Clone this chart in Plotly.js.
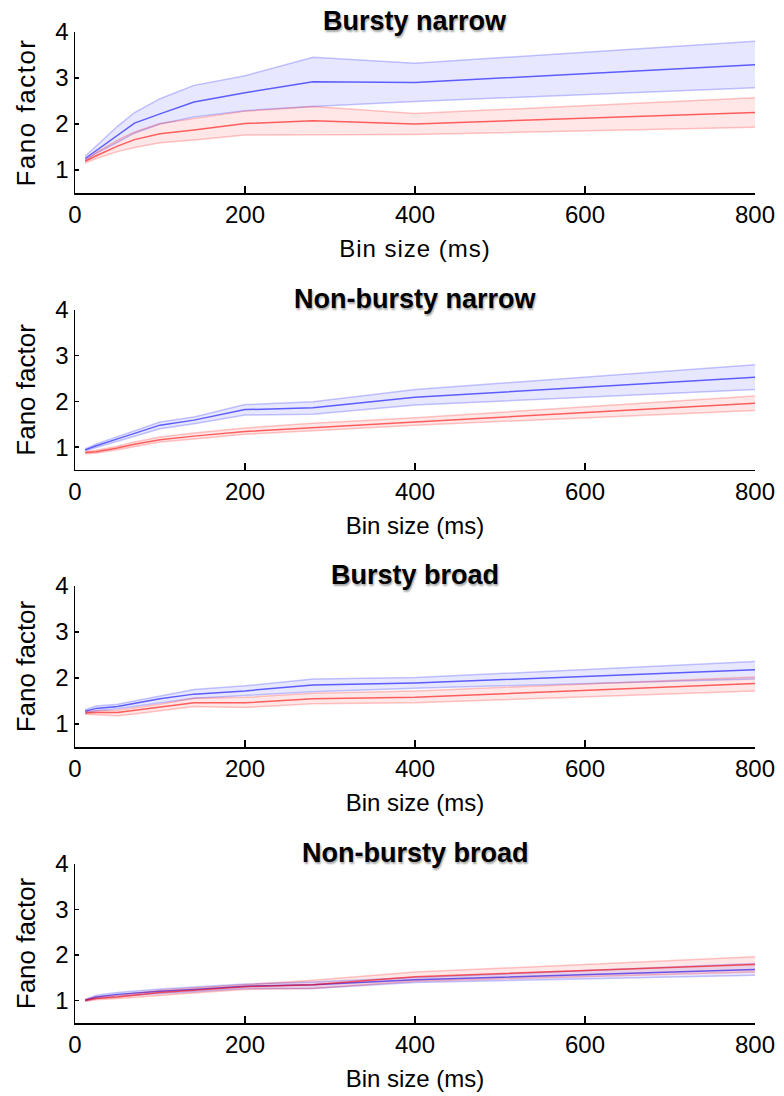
<!DOCTYPE html>
<html>
<head>
<meta charset="utf-8">
<script src="https://cdn.plot.ly/plotly-3.0.1.min.js"></script>
<style>
  html, body { margin: 0; padding: 0; background: #fff; }
  #fig { width: 784px; height: 1096px; }
  /* slightly looser tracking for axis titles */
  #fig .xtitle { letter-spacing: 1px; }
  #fig .ytitle { letter-spacing: 1.5px; }
</style>
</head>
<body>
<div id="fig"></div>
<script>
// Bin sizes (ms) at which the Fano factor was computed
const binSize = [12, 25, 50, 70, 100, 140, 200, 280, 400, 800];

const panelTitles = ["Bursty narrow", "Non-bursty narrow", "Bursty broad", "Non-bursty broad"];
const xTicks = [0, 200, 400, 600, 800];
const yTicks = [1, 2, 3, 4];

// Bursty narrow
const bnBlueMean = [1.25, 1.42, 1.75, 2.02, 2.22, 2.48, 2.68, 2.92, 2.90, 3.29];
const bnBlueHi   = [1.30, 1.52, 1.95, 2.25, 2.55, 2.84, 3.05, 3.45, 3.32, 3.80];
const bnBlueLo   = [1.21, 1.36, 1.60, 1.80, 2.00, 2.15, 2.29, 2.38, 2.49, 2.79];
const bnRedMean  = [1.19, 1.31, 1.52, 1.66, 1.79, 1.87, 2.01, 2.07, 2.00, 2.25];
const bnRedHi    = [1.22, 1.38, 1.65, 1.83, 2.01, 2.12, 2.28, 2.38, 2.23, 2.57];
const bnRedLo    = [1.15, 1.25, 1.40, 1.49, 1.59, 1.65, 1.76, 1.77, 1.77, 1.93];

// Non-bursty narrow
const nnBlueMean = [0.94, 1.03, 1.18, 1.30, 1.48, 1.59, 1.82, 1.86, 2.09, 2.53];
const nnBlueHi   = [0.96, 1.07, 1.23, 1.36, 1.55, 1.66, 1.93, 1.99, 2.26, 2.80];
const nnBlueLo   = [0.92, 0.99, 1.12, 1.24, 1.40, 1.51, 1.70, 1.72, 1.92, 2.26];
const nnRedMean  = [0.88, 0.90, 0.98, 1.06, 1.16, 1.24, 1.34, 1.43, 1.55, 1.96];
const nnRedHi    = [0.90, 0.93, 1.02, 1.11, 1.22, 1.31, 1.42, 1.52, 1.64, 2.12];
const nnRedLo    = [0.85, 0.87, 0.94, 1.01, 1.11, 1.18, 1.28, 1.36, 1.48, 1.80];

// Bursty broad
const bbBlueMean = [1.28, 1.34, 1.38, 1.45, 1.55, 1.65, 1.72, 1.85, 1.89, 2.18];
const bbBlueHi   = [1.31, 1.39, 1.43, 1.50, 1.62, 1.75, 1.83, 1.98, 2.01, 2.36];
const bbBlueLo   = [1.24, 1.29, 1.33, 1.38, 1.47, 1.56, 1.62, 1.70, 1.78, 1.98];
const bbRedMean  = [1.24, 1.25, 1.25, 1.30, 1.36, 1.46, 1.46, 1.55, 1.58, 1.88];
const bbRedHi    = [1.27, 1.29, 1.30, 1.35, 1.43, 1.56, 1.58, 1.67, 1.72, 2.02];
const bbRedLo    = [1.21, 1.20, 1.18, 1.22, 1.29, 1.38, 1.36, 1.44, 1.46, 1.72];

// Non-bursty broad
const nbBlueMean = [1.00, 1.07, 1.13, 1.16, 1.20, 1.24, 1.31, 1.34, 1.45, 1.68];
const nbBlueHi   = [1.02, 1.11, 1.17, 1.20, 1.25, 1.29, 1.36, 1.40, 1.50, 1.81];
const nbBlueLo   = [0.98, 1.04, 1.09, 1.12, 1.15, 1.19, 1.26, 1.26, 1.39, 1.55];
const nbRedMean  = [1.00, 1.04, 1.07, 1.11, 1.17, 1.22, 1.30, 1.34, 1.52, 1.79];
const nbRedHi    = [1.02, 1.07, 1.11, 1.16, 1.22, 1.27, 1.35, 1.44, 1.62, 1.96];
const nbRedLo    = [0.98, 1.01, 1.04, 1.07, 1.10, 1.16, 1.24, 1.26, 1.42, 1.62];

const panels = [
  { blue: [bnBlueLo, bnBlueMean, bnBlueHi], red: [bnRedLo, bnRedMean, bnRedHi] },
  { blue: [nnBlueLo, nnBlueMean, nnBlueHi], red: [nnRedLo, nnRedMean, nnRedHi] },
  { blue: [bbBlueLo, bbBlueMean, bbBlueHi], red: [bbRedLo, bbRedMean, bbRedHi] },
  { blue: [nbBlueLo, nbBlueMean, nbBlueHi], red: [nbRedLo, nbRedMean, nbRedHi] }
];

const palette = {
  blue: { line: "rgba(0,0,255,0.6)", edge: "rgba(0,0,255,0.22)", fill: "rgba(0,0,255,0.095)" },
  red:  { line: "rgba(255,0,0,0.6)", edge: "rgba(255,0,0,0.22)", fill: "rgba(255,0,0,0.095)" }
};

// Vertical extent of each subplot (paper fraction), top to bottom
const domains = [
  [0.8239, 0.9708],
  [0.5712, 0.7172],
  [0.3184, 0.4653],
  [0.0666, 0.2117]
];

const FONT = "Liberation Sans, Arial, Helvetica, sans-serif";
const traces = [];
const layout = {
  width: 784, height: 1096,
  margin: { l: 75, r: 29, t: 0, b: 0 },
  paper_bgcolor: "#fff", plot_bgcolor: "#fff",
  showlegend: false,
  font: { family: FONT, size: 24, color: "#000" },
  annotations: []
};

panels.forEach((p, i) => {
  const n = i + 1;
  const xa = n === 1 ? "x" : "x" + n;
  const ya = n === 1 ? "y" : "y" + n;

  ["blue", "red"].forEach(key => {
    const [lo, mean, hi] = p[key];
    const c = palette[key];
    traces.push({ x: binSize, y: lo, xaxis: xa, yaxis: ya, mode: "lines",
      line: { color: c.edge, width: 1.5 }, hoverinfo: "skip" });
    traces.push({ x: binSize, y: hi, xaxis: xa, yaxis: ya, mode: "lines",
      fill: "tonexty", fillcolor: c.fill,
      line: { color: c.edge, width: 1.5 }, hoverinfo: "skip" });
    traces.push({ x: binSize, y: mean, xaxis: xa, yaxis: ya, mode: "lines",
      line: { color: c.line, width: 1.5 }, name: key });
  });

  layout["xaxis" + (n === 1 ? "" : n)] = {
    anchor: ya, domain: [0, 1], range: [0, 800],
    tickvals: xTicks, ticks: "inside", ticklen: 7, tickwidth: 1.5, tickcolor: "#000",
    showline: true, linecolor: "#000", linewidth: 1.5, mirror: false,
    showgrid: false, zeroline: false, automargin: false,
    tickfont: { family: FONT, size: 24 },
    title: { text: "Bin size (ms)", font: { family: FONT, size: 24 }, standoff: 13 }
  };
  layout["yaxis" + (n === 1 ? "" : n)] = {
    anchor: xa, domain: domains[i], range: [0.5, 4],
    tickvals: yTicks, ticks: "inside", ticklen: 4, tickwidth: 1.5, tickcolor: "#000",
    showline: true, linecolor: "#000", linewidth: 1.5, mirror: false,
    showgrid: false, zeroline: false, automargin: false,
    tickfont: { family: FONT, size: 24 },
    title: { text: "Fano factor", font: { family: FONT, size: 26 }, standoff: 12 }
  };

  layout.annotations.push({
    text: "<b>" + panelTitles[i] + "</b>",
    xref: "paper", yref: "paper", x: 0.5, y: domains[i][1],
    xanchor: "center", yanchor: "bottom", yshift: -6, showarrow: false,
    font: { family: FONT, size: 27, color: "#000", shadow: "1px 2px 2px rgba(0,0,0,0.35)" }
  });
});

Plotly.newPlot("fig", traces, layout, { displayModeBar: false, staticPlot: true });
</script>
</body>
</html>
